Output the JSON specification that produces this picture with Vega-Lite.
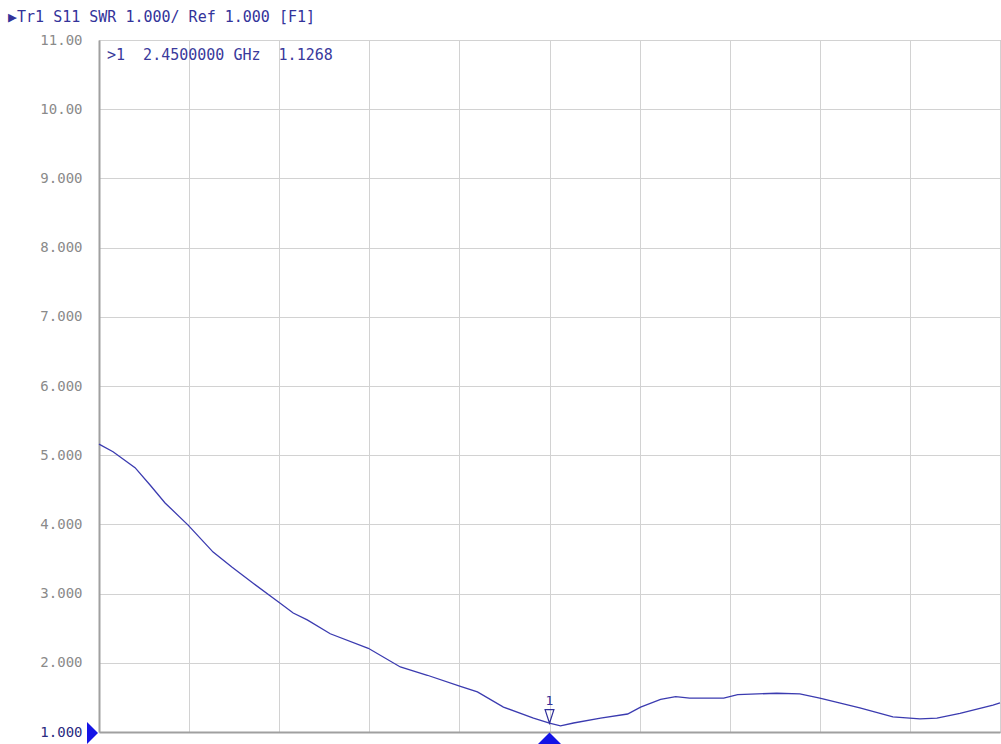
{
  "$schema": "https://vega.github.io/schema/vega-lite/v6.json",
  "width": 901,
  "height": 692,
  "autosize": {"type": "none"},
  "padding": {"left": 99, "top": 40, "right": 1, "bottom": 12},
  "background": "white",
  "config": {
    "view": {"stroke": "#a8a8a8", "strokeWidth": 1},
    "font": "DejaVu Sans Mono"
  },
  "title": {
    "text": "▶Tr1 S11 SWR 1.000/ Ref 1.000 [F1]",
    "anchor": "start",
    "frame": "group",
    "dx": -91,
    "offset": 8,
    "font": "DejaVu Sans Mono",
    "fontSize": 15,
    "fontWeight": "normal",
    "color": "#33339a"
  },
  "datasets": {
    "trace": [
      {"f": 2.000, "swr": 5.16},
      {"f": 2.014, "swr": 5.05},
      {"f": 2.036, "swr": 4.82},
      {"f": 2.051, "swr": 4.57},
      {"f": 2.066, "swr": 4.31},
      {"f": 2.089, "swr": 3.99},
      {"f": 2.114, "swr": 3.60},
      {"f": 2.133, "swr": 3.38},
      {"f": 2.154, "swr": 3.15},
      {"f": 2.181, "swr": 2.86},
      {"f": 2.194, "swr": 2.72},
      {"f": 2.208, "swr": 2.62},
      {"f": 2.231, "swr": 2.42},
      {"f": 2.269, "swr": 2.21},
      {"f": 2.301, "swr": 1.94},
      {"f": 2.328, "swr": 1.82},
      {"f": 2.361, "swr": 1.66},
      {"f": 2.378, "swr": 1.58},
      {"f": 2.404, "swr": 1.36},
      {"f": 2.434, "swr": 1.20},
      {"f": 2.450, "swr": 1.127},
      {"f": 2.461, "swr": 1.09},
      {"f": 2.474, "swr": 1.13},
      {"f": 2.501, "swr": 1.20},
      {"f": 2.528, "swr": 1.26},
      {"f": 2.541, "swr": 1.36},
      {"f": 2.561, "swr": 1.47},
      {"f": 2.576, "swr": 1.51},
      {"f": 2.590, "swr": 1.49},
      {"f": 2.624, "swr": 1.49},
      {"f": 2.638, "swr": 1.54},
      {"f": 2.677, "swr": 1.56},
      {"f": 2.700, "swr": 1.55},
      {"f": 2.720, "swr": 1.49},
      {"f": 2.760, "swr": 1.35},
      {"f": 2.793, "swr": 1.22},
      {"f": 2.820, "swr": 1.19},
      {"f": 2.837, "swr": 1.20},
      {"f": 2.860, "swr": 1.27},
      {"f": 2.893, "swr": 1.39},
      {"f": 2.900, "swr": 1.42}
    ],
    "marker": [{"f": 2.45, "swr": 1.1268, "id": "1"}],
    "readout": [{"f": 2.0, "swr": 11, "text": ">1\u00a0\u00a02.4500000\u00a0GHz\u00a0\u00a01.1268"}],
    "ref": [{"f": 2.0, "swr": 1.0}]
  },
  "encoding": {
    "x": {
      "field": "f",
      "type": "quantitative",
      "scale": {"domain": [2.0, 2.9], "nice": false, "zero": false},
      "axis": {
        "title": null,
        "labels": false,
        "ticks": false,
        "values": [2.0, 2.09, 2.18, 2.27, 2.36, 2.45, 2.54, 2.63, 2.72, 2.81, 2.9],
        "grid": true,
        "gridColor": "#d2d2d2",
        "gridWidth": 1,
        "gridOpacity": 1,
        "domainColor": "#a0a0a0",
        "domainWidth": 2
      }
    },
    "y": {
      "field": "swr",
      "type": "quantitative",
      "scale": {"domain": [1, 11], "nice": false, "zero": false},
      "axis": {
        "title": null,
        "values": [1, 2, 3, 4, 5, 6, 7, 8, 9, 10, 11],
        "ticks": false,
        "grid": true,
        "gridColor": "#d2d2d2",
        "gridWidth": 1,
        "gridOpacity": 1,
        "domainColor": "#a0a0a0",
        "domainWidth": 2,
        "labelPadding": 17,
        "labelFont": "DejaVu Sans Mono",
        "labelFontSize": 14,
        "labelColor": {"expr": "datum.value == 1 ? '#2a2a80' : '#8a8a8a'"},
        "labelExpr": "datum.value >= 10 ? format(datum.value, '.2f') : format(datum.value, '.3f')"
      }
    }
  },
  "layer": [
    {
      "data": {"name": "trace"},
      "mark": {"type": "line", "color": "#3b3bb0", "strokeWidth": 1.3, "interpolate": "linear"}
    },
    {
      "data": {"name": "readout"},
      "mark": {"type": "text", "align": "left", "baseline": "middle", "dx": 8, "dy": 15, "font": "DejaVu Sans Mono", "fontSize": 15, "color": "#3a3a9c"},
      "encoding": {"text": {"field": "text"}}
    },
    {
      "data": {"name": "marker"},
      "mark": {"type": "point", "shape": "M-0.55,-1.7L0.55,-1.7L0,0Z", "size": 256, "filled": false, "stroke": "#30309a", "strokeWidth": 1.2, "fill": "white", "fillOpacity": 0, "opacity": 1}
    },
    {
      "data": {"name": "marker"},
      "mark": {"type": "text", "align": "center", "baseline": "alphabetic", "dy": -18, "font": "DejaVu Sans Mono", "fontSize": 13, "color": "#30309a"},
      "encoding": {"text": {"field": "id"}}
    },
    {
      "data": {"name": "marker"},
      "mark": {"type": "point", "shape": "M0,-0.5L1,0.5L-1,0.5Z", "size": 576, "filled": true, "color": "#1414e6", "opacity": 1, "yOffset": 6.5},
      "encoding": {"y": {"datum": 1, "type": "quantitative"}}
    },
    {
      "data": {"name": "ref"},
      "mark": {"type": "point", "shape": "M-0.5,-1L0.5,0L-0.5,1Z", "size": 484, "filled": true, "color": "#1414e6", "opacity": 1, "xOffset": -6.5, "yOffset": 1}
    }
  ]
}
